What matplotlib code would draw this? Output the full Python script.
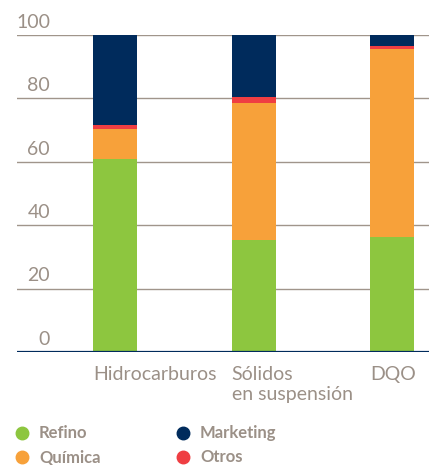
import matplotlib.pyplot as plt
from matplotlib.lines import Line2D
import numpy as np

categories = ['Hidrocarburos', 'Sólidos\nen suspensión', 'DQO']
refino = [60.8, 35.4, 36.4]
quimica = [9.6, 43.1, 59.2]
otros = [1.2, 1.9, 0.9]
marketing = [28.4, 19.6, 3.5]
yticks = [0, 20, 40, 60, 80, 100]

series = [('Refino', refino, '#8dc63f'),
          ('Química', quimica, '#f7a13a'),
          ('Otros', otros, '#ef3e42'),
          ('Marketing', marketing, '#002b5c')]

text_col = '#9b9087'
grid_col = '#a0958b'
W, H = 429, 465

plt.rcParams['font.family'] = ['Lato', 'DejaVu Sans']
fig = plt.figure(figsize=(W / 100, H / 100), dpi=100)
ax = fig.add_axes([17 / W, 1 - 352 / H, 1 - 17 / W, (352 - 35) / H])

x = np.arange(len(categories))
width = 0.318
bottom = np.zeros(len(categories))
for name, vals, col in series:
    ax.bar(x, vals, width, bottom=bottom, color=col, zorder=2, linewidth=0)
    bottom += np.array(vals)

for t in yticks[1:]:
    ax.axhline(t, color=grid_col, lw=1, zorder=1)
ax.axhline(0, color='#002b5c', lw=1.6, zorder=3)

ax.set_xlim(-0.708, 2.267)
ax.set_ylim(0, 100)
ax.axis('off')

# y labels sit just above their gridline
for t in yticks:
    ax.annotate(str(t), xy=(33 / 412, t), xycoords=('axes fraction', 'data'),
                xytext=(0, 3), textcoords='offset points',
                ha='right', va='bottom', fontsize=14, color=text_col)

# category labels aligned to the bar's left edge
for xi, lab in zip(x, categories):
    ax.annotate(lab, xy=(xi - width / 2, 0), xycoords='data',
                xytext=(0, -10), textcoords='offset points',
                ha='left', va='top', fontsize=14, color=text_col,
                linespacing=1.2)

legend_pos = {'Refino': (22, 433), 'Química': (22, 457),
              'Marketing': (183, 433), 'Otros': (183, 457)}
for name, vals, col in series:
    px, py = legend_pos[name]
    fig.add_artist(Line2D([px / W], [1 - py / H], marker='o', markersize=9,
                          color=col, transform=fig.transFigure, linestyle=''))
    fig.text((px + 17) / W, 1 - py / H, name, fontsize=12, fontweight='bold',
             color=text_col, va='center', ha='left')

fig.savefig('out.png', dpi=100)
